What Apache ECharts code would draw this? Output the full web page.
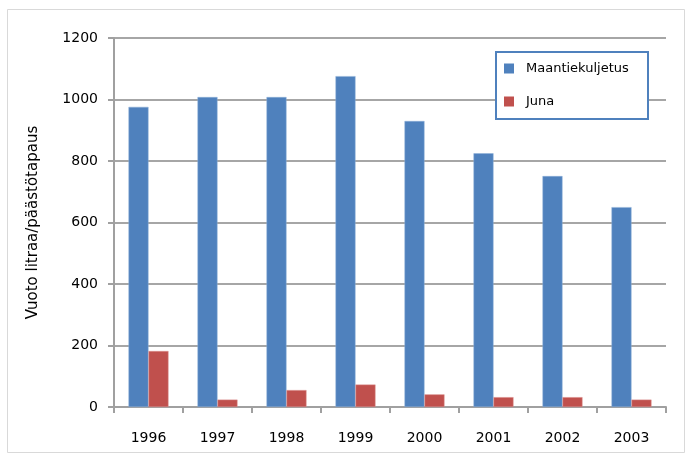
<!DOCTYPE html>
<html>
<head>
<meta charset="utf-8">
<script src="https://cdn.jsdelivr.net/npm/echarts@6/dist/echarts.min.js"></script>
<style>
  html, body { margin: 0; padding: 0; background: #ffffff; }
  #chart { width: 691px; height: 459px; }
</style>
</head>
<body>
<div id="chart"></div>
<script>
// Annual spill volume per incident, road vs rail
const years = ['1996', '1997', '1998', '1999', '2000', '2001', '2002', '2003'];
const roadValues = [976, 1008, 1008, 1076, 930, 825, 751, 650];
const railValues = [182, 24, 55, 73, 41, 32, 32, 24];
const seriesNames = ['Maantiekuljetus', 'Juna'];
const yTitle = 'Vuoto litraa/päästötapaus';

const FONT = 'DejaVu Sans';
const chart = echarts.init(document.getElementById('chart'), null, { renderer: 'canvas' });

chart.setOption({
  animation: false,
  backgroundColor: '#ffffff',
  textStyle: { fontFamily: FONT },
  graphic: [
    {
      type: 'rect',
      shape: { x: 7.5, y: 9.5, width: 677, height: 443 },
      style: { fill: 'none', stroke: '#d9d9d9', lineWidth: 1 },
      silent: true
    },
    {
      type: 'rect',
      shape: { x: 496, y: 52, width: 152, height: 67 },
      style: { fill: '#ffffff', stroke: '#4f81bd', lineWidth: 2 },
      z: 10,
      silent: true
    }
  ],
  legend: {
    data: seriesNames,
    orient: 'vertical',
    left: 504,
    top: 62,
    padding: 0,
    itemWidth: 10,
    itemHeight: 10,
    itemGap: 20,
    icon: 'rect',
    z: 20,
    itemStyle: { borderWidth: 0 },
    textStyle: { fontFamily: FONT, fontSize: 13, color: '#000000', padding: [0, 0, 0, 7] }
  },
  grid: { left: 114, right: 25, top: 38, bottom: 52, containLabel: false },
  xAxis: {
    type: 'category',
    data: years,
    axisLine: { lineStyle: { color: '#a0a0a0', width: 2 } },
    axisTick: { show: true, length: 6, alignWithLabel: false, lineStyle: { color: '#a0a0a0', width: 2 } },
    axisLabel: { color: '#000000', fontSize: 14, fontFamily: FONT, margin: 24 }
  },
  yAxis: {
    type: 'value',
    min: 0,
    max: 1200,
    interval: 200,
    name: yTitle,
    nameLocation: 'middle',
    nameGap: 73,
    nameRotate: 90,
    nameTextStyle: { color: '#000000', fontSize: 15, fontFamily: FONT },
    axisLine: { show: true, lineStyle: { color: '#a0a0a0', width: 2 } },
    axisTick: { show: true, length: 6, lineStyle: { color: '#a0a0a0', width: 2 } },
    axisLabel: { color: '#000000', fontSize: 14, fontFamily: FONT, margin: 16, formatter: (v) => String(v) },
    splitLine: { show: true, lineStyle: { color: '#a6a6a6', width: 2 } }
  },
  series: [
    {
      name: seriesNames[0],
      type: 'bar',
      data: roadValues,
      barWidth: 20,
      barGap: '0%',
      itemStyle: { color: '#4f81bd', borderColor: '#8fb0d8', borderWidth: 0.5 }
    },
    {
      name: seriesNames[1],
      type: 'bar',
      data: railValues,
      barWidth: 20,
      barGap: '0%',
      itemStyle: { color: '#c0504d', borderColor: '#dc9391', borderWidth: 0.5 }
    }
  ]
});
</script>
</body>
</html>
